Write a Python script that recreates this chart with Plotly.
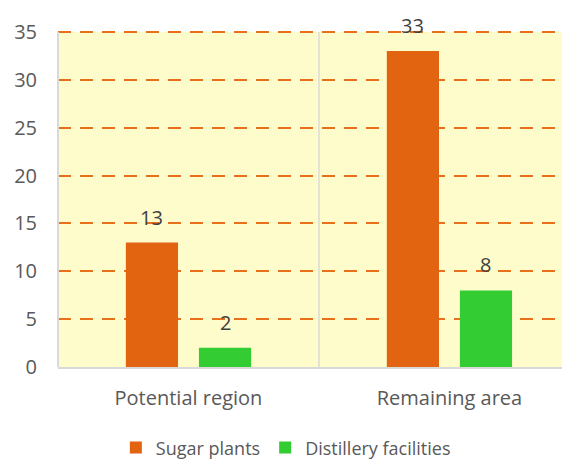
import plotly.graph_objects as go

categories = ["Potential region", "Remaining area"]
sugar_plants = [13, 33]
distillery = [2, 8]
series_names = ["Sugar plants", "Distillery facilities"]
y_ticks = [0, 5, 10, 15, 20, 25, 30, 35]

colors = ["#E26310", "#33CC33"]
font_col = "#595959"
FONT = "Open Sans, sans-serif"
FS = 20

fig = go.Figure()
for name, vals, col in zip(series_names, [sugar_plants, distillery], colors):
    fig.add_trace(go.Bar(x=categories, y=vals, name=name, marker_color=col,
                         marker_line_width=0))

# value labels above bars
offsets = [-0.14, 0.14]
for vals, off in zip([sugar_plants, distillery], offsets):
    for i, v in enumerate(vals):
        fig.add_annotation(x=i + off, y=v, xref="x", yref="y", text=str(v),
                           showarrow=False, yanchor="bottom", yshift=10,
                           font=dict(size=FS, color="#404040", family=FONT))

fig.update_layout(
    width=562, height=455,
    margin=dict(l=50, r=0, t=22, b=96, autoexpand=False),
    paper_bgcolor="white", plot_bgcolor="white",
    barmode="group", bargap=0.44, bargroupgap=0.286,
    font=dict(family=FONT, size=FS, color=font_col),
    showlegend=True,
    legend=dict(orientation="h", x=0.445, xanchor="center", y=-0.185, yanchor="top",
                font=dict(size=18, color=font_col), itemwidth=30,
                traceorder="normal"),
)
# yellow plot background from 0 to 35
fig.add_shape(type="rect", xref="paper", yref="y", x0=0, x1=1, y0=0, y1=y_ticks[-1],
              fillcolor="#FFFCCB", line_width=0, layer="below")
fig.update_xaxes(type="category", range=[-0.5, 1.462], tickson="boundaries",
                 showgrid=False,
                 showline=True, linecolor="#D9D9D9", linewidth=1.5,
                 ticks="", ticklen=0, tickfont=dict(size=FS, color=font_col),
                 zeroline=False, automargin=False, ticklabelstandoff=12)
# vertical category divider
fig.add_shape(type="line", xref="x", yref="y", x0=0.5, x1=0.5, y0=0, y1=y_ticks[-1],
              line=dict(color="#D9D9D9", width=1.5), layer="below")
fig.update_yaxes(range=[0, 35.2], tickvals=y_ticks, showgrid=True,
                 gridcolor="#E8701A", gridwidth=2, griddash="13px,9px",
                 showline=False,
                 zeroline=False, ticks="", ticklabelstandoff=20, automargin=False,
                 tickfont=dict(size=FS, color=font_col))
# left axis line (0 to 35)
fig.add_shape(type="line", xref="paper", yref="y", x0=0, x1=0, y0=0, y1=y_ticks[-1],
              line=dict(color="#D9D9D9", width=2), layer="above")

fig.write_html("out.html")
